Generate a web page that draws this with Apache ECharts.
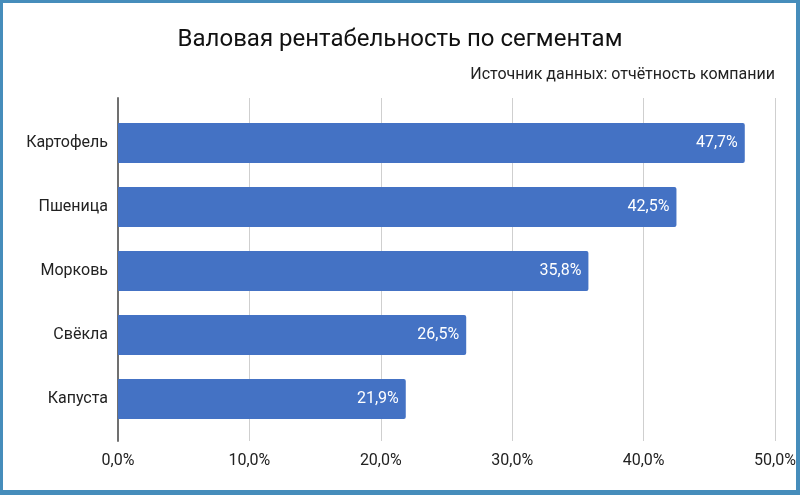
<!DOCTYPE html>
<html>
<head>
<meta charset="utf-8">
<script src="https://cdn.jsdelivr.net/npm/echarts@6/dist/echarts.min.js"></script>
<style>
    html, body {margin: 0; padding: 0; background: #fff;}
    #chart {width: 800px; height: 495px;}
    #frame {
        position: absolute; left: 0; top: 0; width: 800px; height: 495px;
        box-sizing: border-box; pointer-events: none;
        border-style: solid; border-color: #468dbb;
        border-width: 3px 4px 5px 3px;
    }
</style>
</head>
<body>
<div id="chart"></div>
<div id="frame"></div>
<script>
// данные
const categories = ['Картофель', 'Пшеница', 'Морковь', 'Свёкла', 'Капуста']
const margins = [47.7, 42.5, 35.8, 26.5, 21.9]
const xTicks = [0, 10, 20, 30, 40, 50]

const fmt = v => v.toFixed(1).replace('.', ',') + '%'
const font = 'Roboto, "Noto Sans", sans-serif'

const chart = echarts.init(document.getElementById('chart'))
chart.setOption({
    animation: false,
    textStyle: {fontFamily: font},
    title: [
        {
            text: 'Валовая рентабельность по сегментам',
            left: 'center',
            top: 23,
            textStyle: {fontSize: 24, fontWeight: 'normal', color: '#111', fontFamily: font},
        },
        {
            text: 'Источник данных: отчётность компании',
            right: 20,
            top: 62,
            textStyle: {fontSize: 16, fontWeight: 'normal', color: '#222', fontFamily: font},
        },
    ],
    grid: [
        {left: 118, right: 25, top: 111, height: 320},
        {left: 118, right: 25, top: 98, bottom: 54},
    ],
    xAxis: [
        {type: 'value', gridIndex: 0, min: xTicks[0], max: xTicks[xTicks.length - 1], show: false},
        {
            type: 'value',
            gridIndex: 1,
            min: xTicks[0],
            max: xTicks[xTicks.length - 1],
            interval: 10,
            axisLine: {show: false},
            axisTick: {show: false},
            splitLine: {lineStyle: {color: '#cfcfcf', width: 1}},
            axisLabel: {formatter: fmt, color: '#222', fontSize: 16, margin: 12, fontFamily: font},
        },
    ],
    yAxis: [
        {
            type: 'category',
            gridIndex: 0,
            inverse: true,
            data: categories,
            axisLine: {show: false},
            axisTick: {show: false},
            axisLabel: {color: '#222', fontSize: 16, margin: 10, fontFamily: font},
        },
        {
            type: 'value',
            gridIndex: 1,
            axisLabel: {show: false},
            axisTick: {show: false},
            splitLine: {show: false},
            axisLine: {show: true, lineStyle: {color: '#707070', width: 2}},
        },
    ],
    series: [
        {
            type: 'bar',
            xAxisIndex: 0,
            yAxisIndex: 0,
            data: margins,
            barWidth: 40,
            itemStyle: {color: '#4472c4', borderRadius: [0, 2, 2, 0]},
            label: {
                show: true,
                position: 'insideRight',
                distance: 7,
                color: '#fff',
                fontSize: 16,
                fontFamily: font,
                formatter: ({value}) => fmt(value),
            },
        },
    ],
})
</script>
</body>
</html>
